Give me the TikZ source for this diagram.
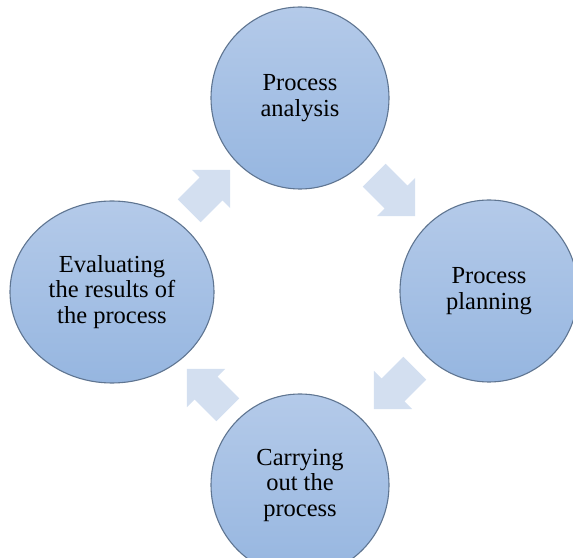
\documentclass[tikz,border=0pt]{standalone}
\usepackage{fontspec}
\setmainfont{Liberation Serif}
\usetikzlibrary{shapes.geometric, shapes.arrows}
\definecolor{stageTop}{HTML}{B4CAE9}
\definecolor{stageBot}{HTML}{96B6E0}
\definecolor{stageLine}{HTML}{5F7591}
\definecolor{arrowFill}{HTML}{D3DFF0}
\tikzset{
  stage/.style={ellipse, draw=stageLine, line width=1.1pt, top color=stageTop,
    bottom color=stageBot, minimum width=178pt, minimum height=182pt,
    align=center, inner sep=0pt, font=\fontsize{24.5}{25.5}\selectfont},
  flowArrow/.style={single arrow, fill=arrowFill, draw=none, minimum height=58pt,
    text height=16pt, text depth=16pt, text width=0pt,
    single arrow head extend=11pt, inner sep=0pt}
}
\begin{document}
\begin{tikzpicture}[x=1pt, y=1pt]
    \useasboundingbox (0,0) rectangle (573,557);
    \clip (0,0) rectangle (573,557);

    % Kruhy
    \node[stage] (analysis) at (300,459) {Process\\analysis};
    \node[stage] (planning) at (489,266) {Process\\planning};
    \node[stage] (carrying) at (300,72) {Carrying\\out the\\process};
    \node[stage, minimum width=204pt] (evaluating) at (112,265) {Evaluating\\the results of\\the process};

    % Sipky mezi kruhy
    \node[flowArrow, rotate=45] (arrTL) at (204,361) {};
    \node[flowArrow, rotate=-45] (arrTR) at (389,367) {};
    \node[flowArrow, rotate=-135] (arrBR) at (400,174) {};
    \node[flowArrow, rotate=135] (arrBL) at (213,162) {};

\end{tikzpicture}
\end{document}
